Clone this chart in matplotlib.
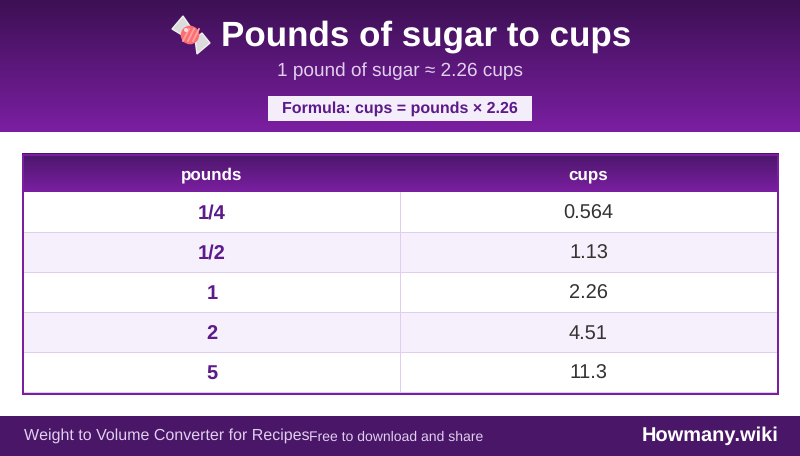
import numpy as np
import matplotlib
matplotlib.use("Agg")
import matplotlib.pyplot as plt
from matplotlib.patches import Rectangle, Circle, Polygon
from matplotlib.colors import LinearSegmentedColormap

title = "Pounds of sugar to cups"
subtitle = "1 pound of sugar ≈ 2.26 cups"
formula = "Formula: cups = pounds × 2.26"
headers = ["pounds", "cups"]
pounds = ["1/4", "1/2", "1", "2", "5"]
cups = ["0.564", "1.13", "2.26", "4.51", "11.3"]
footer_left = "Weight to Volume Converter for Recipes"
footer_mid = "Free to download and share"
footer_right = "Howmany.wiki"

plt.rcParams["font.family"] = ["Liberation Sans", "DejaVu Sans"]
plt.rcParams["text.hinting"] = "no_hinting"
plt.rcParams["text.hinting_factor"] = 1
PX = 0.72
fig = plt.figure(figsize=(8, 4.5601), dpi=100)
ax = fig.add_axes([0, 0, 1, 1])
ax.set_xlim(0, 800); ax.set_ylim(456, 0); ax.axis("off")

def grad(x0, x1, y0, y1, c0, c1):
    cm = LinearSegmentedColormap.from_list("g", [c0, c1])
    ax.imshow(np.linspace(0, 1, 256)[:, None], cmap=cm, extent=(x0, x1, y1, y0),
              aspect="auto", zorder=1, interpolation="bilinear")

DARK, MID = "#3c1053", "#7b1fa2"
INK = "#5c1a8a"
BL = "baseline"
grad(0, 800, 0, 132, DARK, MID)
ax.text(426, 46, title, color="white", fontsize=34.6*PX, fontweight="bold", ha="center", va=BL, zorder=3)
ax.text(400, 76.5, subtitle, color="#e1cfee", fontsize=19.45*PX, ha="center", va=BL, zorder=3)
ax.add_patch(Rectangle((268, 96), 264, 25, fc="#f3eefa", ec="none", zorder=2))
ax.text(400, 113, formula, color=INK, fontsize=15.7*PX, fontweight="bold", ha="center", va=BL, zorder=3)

# candy icon
for pts in ([(172, 29), (183, 16), (194, 32), (187, 38)], [(195, 39), (202, 33), (210, 43), (197, 54)]):
    ax.add_patch(Polygon(pts, closed=True, fc="#dcdcdc", ec="#f2f2f2", lw=1, zorder=3))
ax.add_patch(Circle((190, 35), 9.3, fc="#fb6f73", ec="none", zorder=4))
for d in (-4, 1, 6):
    ax.plot([190+d-3, 190+d+3], [35+6, 35-6], color="#ffa2a2", lw=1.3, zorder=5)
ax.add_patch(Circle((186, 30), 2, fc="white", ec="none", alpha=.75, zorder=6))

# table
L, R, T, B = 22, 779, 154, 395
midx = 400
HB = 192
grad(L, R, T, HB, "#4a1668", MID)
for i, lab in enumerate(headers):
    cx = 211.5 if i == 0 else 588.5
    ax.text(cx, 179.5, lab, color="white", fontsize=16.5*PX, fontweight="bold", ha="center", va=BL, zorder=3)
rowh = 40
for i, (p, c) in enumerate(zip(pounds, cups)):
    y = HB + i*rowh
    ax.add_patch(Rectangle((L, y), R-L, rowh, fc="#f5f0fb" if i % 2 else "white", ec="none", zorder=2))
    ax.add_patch(Rectangle((L, y+rowh), R-L, 1, fc="#e1cdee", ec="none", zorder=3))
    ax.text(212, y+26.8, p, color=INK, fontsize=20*PX, fontweight="bold", ha="center", va=BL, zorder=4)
    ax.text(588.5, y+26.8, c, color="#333333", fontsize=20*PX, ha="center", va=BL, zorder=4)
ax.add_patch(Rectangle((midx, HB), 1, B-2-HB, fc="#e1cdee", ec="none", zorder=3))
for r in ((L, T, R-L, 2), (L, B-2, R-L, 2), (L, T, 2, B-T), (R-2, T, 2, B-T)):
    ax.add_patch(Rectangle(r[:2], r[2], r[3], fc=MID, ec="none", zorder=5))

# footer
ax.add_patch(Rectangle((0, 416), 800, 40, fc="#4a1668", ec="none", zorder=2))
ax.text(24, 439.8, footer_left, color="#e1cfee", fontsize=16*PX, ha="left", va=BL, zorder=3)
ax.text(309, 440.4, footer_mid, color="#e1cfee", fontsize=14.4*PX, ha="left", va=BL, zorder=3)
ax.text(778.5, 440.6, footer_right, color="white", fontsize=19.6*PX, fontweight="bold", ha="right", va=BL, zorder=3)

ax.set_xlim(0, 800); ax.set_ylim(456, 0)
fig.savefig("out.png", dpi=100, facecolor="white")
